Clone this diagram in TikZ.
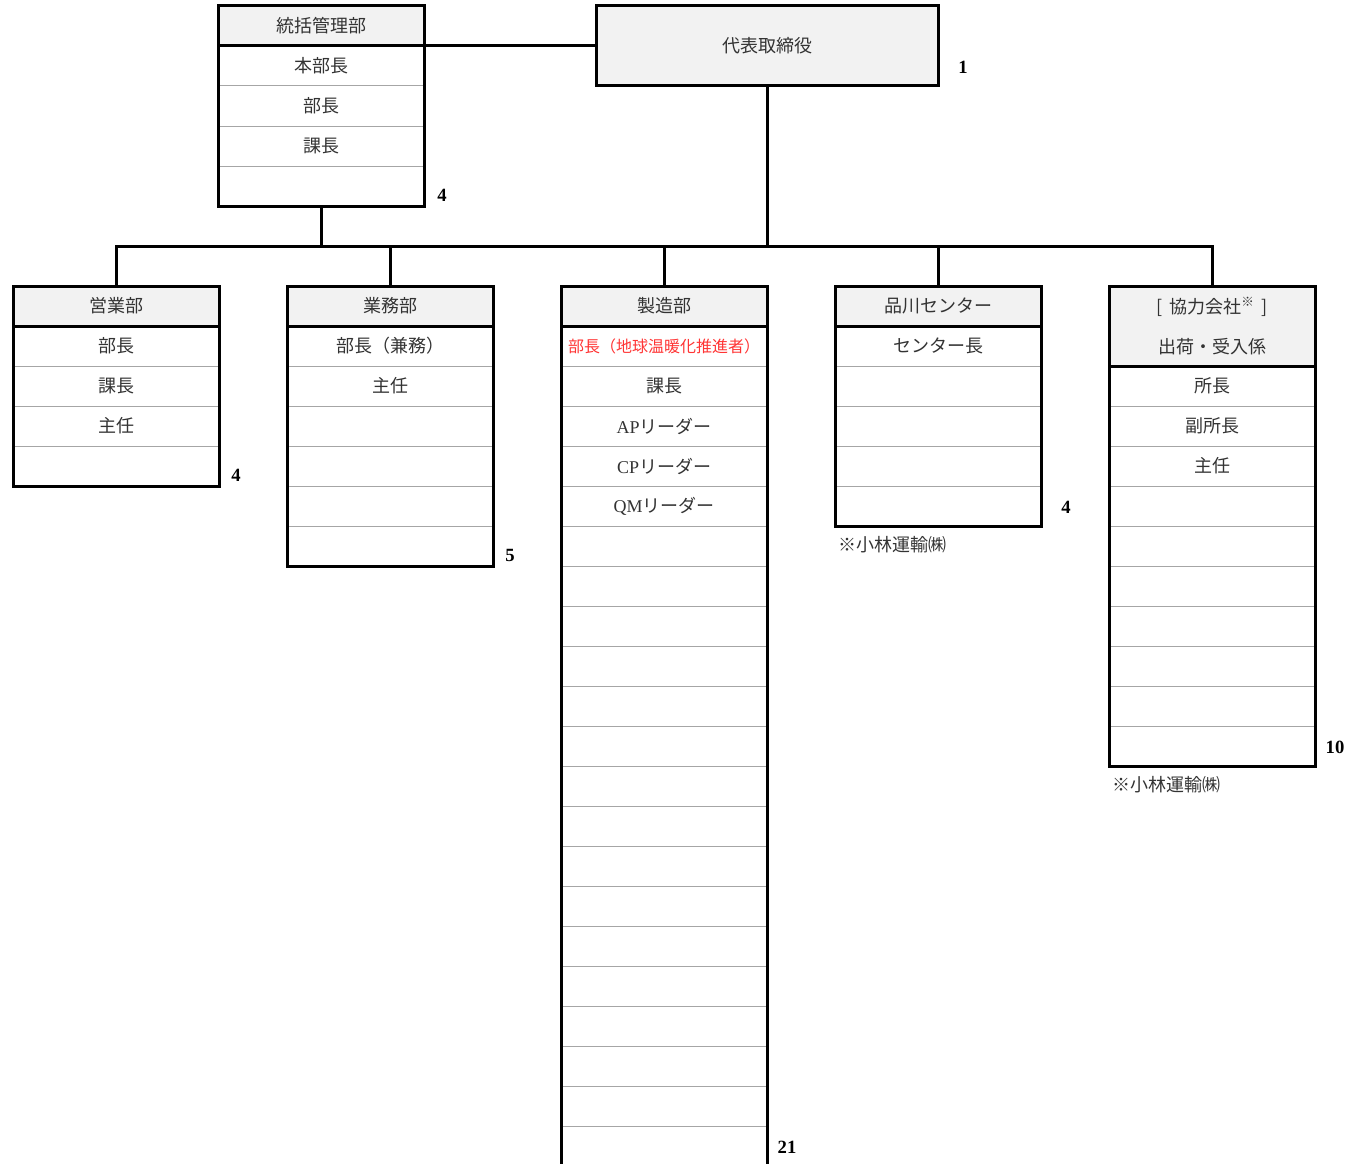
\documentclass[tikz,border=0pt]{standalone}
\usepackage{fontspec}
\setmainfont{Noto Sans CJK JP}
\newfontfamily\numfont{Liberation Serif}
\usetikzlibrary{positioning}
\definecolor{headgray}{HTML}{F2F2F2}
\definecolor{rulegray}{HTML}{A6A6A6}
\definecolor{txtgray}{HTML}{333333}
\definecolor{warnred}{HTML}{FF3333}
\begin{document}
\begin{tikzpicture}[x=0.75pt,y=-0.75pt,
  every node/.style={inner sep=0pt,outer sep=0pt,text=txtgray,font=\fontsize{13.5}{16}\selectfont},
  head/.style={draw=black,line width=2.25pt,fill=headgray,minimum width=154.5pt,minimum height=30pt},
  cell/.style={draw=rulegray,line width=0.75pt,minimum width=154.5pt,minimum height=30pt},
  frame/.style={draw=black,line width=2.25pt},
  link/.style={draw=black,line width=2.25pt,line cap=rect},
  tally/.style={text=black,font=\numfont\bfseries\fontsize{14}{16}\selectfont},
  note/.style={anchor=west}]
  \useasboundingbox (0,0) rectangle (1352,1163);

  % top
  \node[head,minimum width=256.5pt,minimum height=60pt] (ceo) at (767,46) {代表取締役};
  \node[tally] (n-ceo) at (963,67) {1};

  \node[head] (sogo) at (321,26) {統括管理部};
  \foreach \lbl [count=\i] in {本部長,部長,課長,{}}
    \node[cell] (sogo-\i) at (321,26+40*\i) {\lbl};
  \draw[frame] (sogo.north west) rectangle (sogo-4.south east) (sogo.south west) -- (sogo.south east);
  \node[tally] (n-sogo) at (442,195) {4};

  % departments
  \node[head] (eig) at (116,306) {営業部};
  \foreach \lbl [count=\i] in {部長,課長,主任,{}}
    \node[cell] (eig-\i) at (116,306+40*\i) {\lbl};
  \draw[frame] (eig.north west) rectangle (eig-4.south east) (eig.south west) -- (eig.south east);
  \node[tally] (n-eig) at (236,475) {4};

  \node[head] (gym) at (390,306) {業務部};
  \foreach \lbl [count=\i] in {部長（兼務）,主任,{},{},{},{}}
    \node[cell] (gym-\i) at (390,306+40*\i) {\lbl};
  \draw[frame] (gym.north west) rectangle (gym-6.south east) (gym.south west) -- (gym.south east);
  \node[tally] (n-gym) at (510,555) {5};

  \node[head] (sei) at (664,306) {製造部};
  \foreach \lbl [count=\i] in {{\fontsize{12}{14}\selectfont\color{warnred}部長（地球温暖化推進者）},課長,
      {{\numfont AP}リーダー},{{\numfont CP}リーダー},{{\numfont QM}リーダー},
      {},{},{},{},{},{},{},{},{},{},{},{},{},{},{},{}}
    \node[cell] (sei-\i) at (664,306+40*\i) {\lbl};
  \draw[frame] (sei.north west) rectangle (sei-21.south east) (sei.south west) -- (sei.south east);
  \node[tally] (n-sei) at (787,1147) {21};

  \node[head] (shn) at (938,306) {品川センター};
  \foreach \lbl [count=\i] in {センター長,{},{},{},{}}
    \node[cell] (shn-\i) at (938,306+40*\i) {\lbl};
  \draw[frame] (shn.north west) rectangle (shn-5.south east) (shn.south west) -- (shn.south east);
  \node[tally] (n-shn) at (1066,507) {4};
  \node[note] (m-shn) at (838,545) {※小林運輸㈱};

  \node[head,minimum height=60pt,align=center,font=\fontsize{13.5}{30}\selectfont] (kyo) at (1212,326)
    {[\,\ 協力会社\textsuperscript{※}\ \,]\\出荷・受入係};
  \foreach \lbl [count=\i] in {所長,副所長,主任,{},{},{},{},{},{},{}}
    \node[cell] (kyo-\i) at (1212,346+40*\i) {\lbl};
  \draw[frame] (kyo.north west) rectangle (kyo-10.south east) (kyo.south west) -- (kyo.south east);
  \node[tally] (n-kyo) at (1335,747) {10};
  \node[note] (m-kyo) at (1112,785) {※小林運輸㈱};

  % lines
  \coordinate (busL) at (116,246);
  \coordinate (busR) at (1212,246);
  \draw[link] (ceo.west) -- (ceo.west -| sogo.east);
  \draw[link] (ceo.south) -- (ceo.south |- busL);
  \draw[link] (sogo-4.south) -- (sogo-4.south |- busL);
  \draw[link] (busL) -- (busR);
  \foreach \d in {eig,gym,sei,shn,kyo}
    \draw[link] (\d.north) -- (\d.north |- busL);
\end{tikzpicture}
\end{document}
